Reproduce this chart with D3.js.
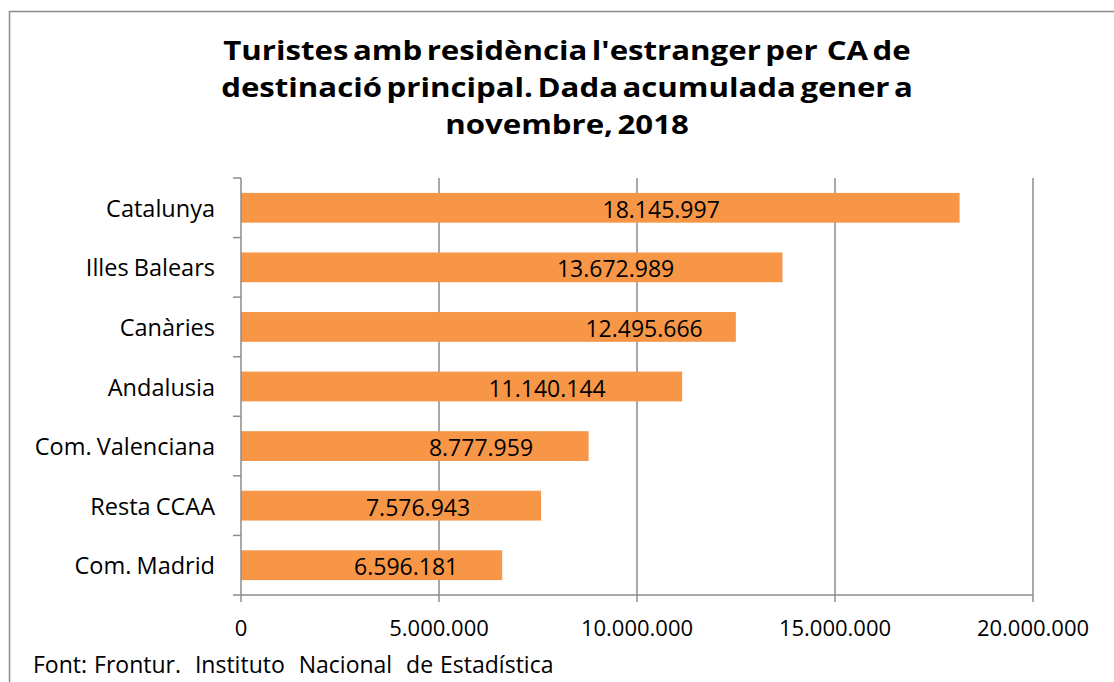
<!DOCTYPE html>
<html>
<head>
<meta charset="utf-8">
<script src="https://cdn.jsdelivr.net/npm/d3@7"></script>
<style>
  body { margin: 0; background: #fff; }
  svg { display: block; font-family: "Open Sans", "Noto Sans", sans-serif; }
</style>
</head>
<body>
<svg width="1114" height="682"></svg>
<script>
var width = 1114;
var height = 682;

var categories = ['Catalunya', 'Illes Balears', 'Canàries', 'Andalusia', 'Com. Valenciana', 'Resta CCAA', 'Com. Madrid'];
var values = [18145997, 13672989, 12495666, 11140144, 8777959, 7576943, 6596181];
var labelAt = [10610000, 9460000, 10180000, 7730000, 6060000, 4470000, 4170000]; // where each value label sits, in axis units
var xTicks = [0, 5000000, 10000000, 15000000, 20000000];
var titleLines = ["Turistes amb residència l'estranger per  CA de", 'destinació principal. Dada acumulada gener a', 'novembre, 2018'];
var source = 'Font: Frontur.  Instituto  Nacional  de Estadística';

var margin = {top: 178, left: 241, right: 81, bottom: 87}; // plot area
var svg = d3.select('svg');

// thousands with dots
var fmt = function(v) { return d3.format(',')(v).replace(/,/g, '.'); };

// chart border (right and bottom edges fall outside the picture)
svg.append('rect')
	.attr('x', 9.5).attr('y', 11.5)
	.attr('width', width + 10).attr('height', height + 10)
	.attr('fill', 'none').attr('stroke', '#8c8c8c').attr('stroke-width', 1.5);

var x = d3.scaleLinear().domain([0, 20000000]).range([margin.left, width - margin.right]);
var y = d3.scaleBand().domain(categories).range([margin.top, height - margin.bottom]).paddingInner(0.5).paddingOuter(0.25);

// title, glyphs a little wider than the plain font
svg.append('g')
	.attr('transform', 'translate(567,0) scale(1.2,1)')
	.selectAll('text')
	.data(titleLines)
	.enter()
	.append('text')
	.attr('x', 0)
	.attr('y', function(d, i) { return 60 + i * 37; })
	.attr('text-anchor', 'middle')
	.style('font-size', '26px')
	.style('font-weight', 'bold')
	.style('word-spacing', '-3px')
	.style('white-space', 'pre')
	.text(function(d) { return d; });

// gridlines
svg.append('g').selectAll('line')
	.data(xTicks.slice(1))
	.enter()
	.append('line')
	.attr('x1', x).attr('x2', x)
	.attr('y1', margin.top).attr('y2', height - margin.bottom)
	.attr('stroke', '#8c8c8c').attr('stroke-width', 1.5);

// bars
svg.append('g').selectAll('rect')
	.data(values)
	.enter()
	.append('rect')
	.attr('x', x(0))
	.attr('y', function(d, i) { return y(categories[i]); })
	.attr('width', function(d) { return x(d) - x(0); })
	.attr('height', y.bandwidth())
	.attr('fill', '#f79646');

// bar labels
svg.append('g').selectAll('text')
	.data(values)
	.enter()
	.append('text')
	.attr('x', function(d, i) { return x(labelAt[i]); })
	.attr('y', function(d, i) { return y(categories[i]) + y.bandwidth() / 2 + 10; })
	.attr('text-anchor', 'middle')
	.style('font-size', '23px')
	.text(fmt);

// y axis line and band ticks
var step = (height - margin.top - margin.bottom) / categories.length;
var yAxis = svg.append('g');
yAxis.append('line')
	.attr('x1', x(0)).attr('x2', x(0))
	.attr('y1', margin.top).attr('y2', height - margin.bottom)
	.attr('stroke', '#8c8c8c').attr('stroke-width', 1.5);
yAxis.selectAll('line.tick')
	.data(d3.range(categories.length + 1))
	.enter()
	.append('line')
	.attr('class', 'tick')
	.attr('x1', x(0) - 8).attr('x2', x(0))
	.attr('y1', function(i) { return margin.top + i * step; })
	.attr('y2', function(i) { return margin.top + i * step; })
	.attr('stroke', '#8c8c8c').attr('stroke-width', 1.5);
yAxis.selectAll('text')
	.data(categories)
	.enter()
	.append('text')
	.attr('x', 215)
	.attr('y', function(d) { return y(d) + y.bandwidth() / 2 + 9; })
	.attr('text-anchor', 'end')
	.style('font-size', '23.5px')
	.style('word-spacing', '-1px')
	.text(function(d) { return d; });

// x axis
var xAxis = svg.append('g');
xAxis.append('line')
	.attr('x1', x(0)).attr('x2', x(20000000))
	.attr('y1', height - margin.bottom).attr('y2', height - margin.bottom)
	.attr('stroke', '#8c8c8c').attr('stroke-width', 1.5);
xAxis.selectAll('line.tick')
	.data(xTicks)
	.enter()
	.append('line')
	.attr('class', 'tick')
	.attr('x1', x).attr('x2', x)
	.attr('y1', height - margin.bottom).attr('y2', height - margin.bottom + 7)
	.attr('stroke', '#8c8c8c').attr('stroke-width', 1.5);
xAxis.selectAll('text')
	.data(xTicks)
	.enter()
	.append('text')
	.attr('x', x)
	.attr('y', 636)
	.attr('text-anchor', 'middle')
	.style('font-size', '22px')
	.text(fmt);

// source note
svg.append('text')
	.attr('x', 33)
	.attr('y', 673)
	.style('font-size', '23px')
	.style('white-space', 'pre')
	.style('word-spacing', '1px')
	.text(source);
</script>
</body>
</html>
